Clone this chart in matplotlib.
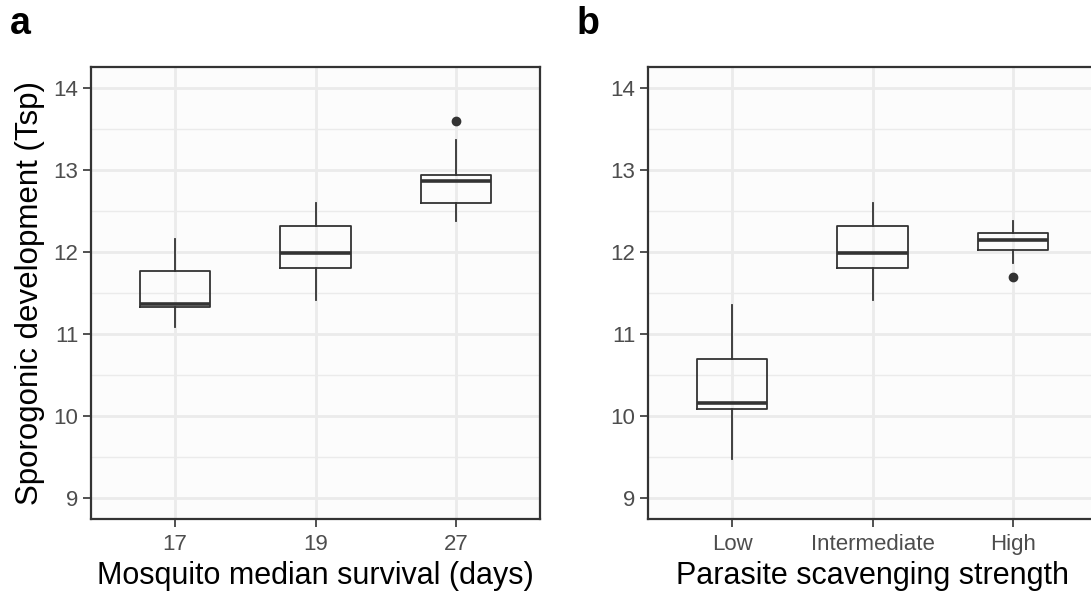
import matplotlib
matplotlib.use("Agg")
import matplotlib.pyplot as plt

plt.rcParams['font.family'] = ['Liberation Sans', 'DejaVu Sans']

# Panel a: mosquito median survival (days)
a_labels = ["17", "19", "27"]
a_whislo = [11.09, 11.415, 12.38]
a_q1 = [11.33, 11.807, 12.60]
a_med = [11.37, 11.985, 12.86]
a_q3 = [11.77, 12.317, 12.936]
a_whishi = [12.155, 12.60, 13.365]
a_fliers = [[], [], [13.596]]

# Panel b: parasite scavenging strength
b_labels = ["Low", "Intermediate", "High"]
b_whislo = [9.477, 11.415, 11.868]
b_q1 = [10.084, 11.807, 12.018]
b_med = [10.161, 11.985, 12.143]
b_q3 = [10.695, 12.317, 12.232]
b_whishi = [11.354, 12.60, 12.382]
b_fliers = [[], [], [11.698]]

y_ticks = [9, 10, 11, 12, 13, 14]
y_minor = [9.5, 10.5, 11.5, 12.5, 13.5]

DARK = '#333333'
GRID = '#EBEBEB'
W, H = 1091, 594

fig = plt.figure(figsize=(W / 100, H / 100), dpi=100)
fig.patch.set_facecolor('white')


def make_stats(labels, lo, q1, med, q3, hi, fl):
    return [dict(label=l, whislo=a, q1=b, med=c, q3=d, whishi=e, fliers=f)
            for l, a, b, c, d, e, f in zip(labels, lo, q1, med, q3, hi, fl)]


def panel(rect, stats, labels, xlabel, letter, letter_x, ylabel=None):
    ax = fig.add_axes(rect)
    ax.set_facecolor('#FCFCFC')
    ax.bxp(stats, positions=[1, 2, 3], widths=0.5, patch_artist=False,
           boxprops=dict(color=DARK, linewidth=1.3),
           medianprops=dict(color=DARK, linewidth=2.6),
           whiskerprops=dict(color=DARK, linewidth=1.3),
           capprops=dict(linewidth=0),
           showcaps=False,
           flierprops=dict(marker='o', markerfacecolor=DARK, markeredgecolor=DARK,
                           markersize=6),
           zorder=3)
    ax.set_xlim(0.4, 3.6)
    ax.set_ylim(8.75, 14.25)
    ax.set_yticks(y_ticks)
    ax.set_yticks(y_minor, minor=True)
    ax.set_xticks([1, 2, 3])
    ax.set_xticklabels(labels)
    ax.grid(True, which='major', color=GRID, linewidth=2.0, zorder=0)
    ax.grid(True, which='minor', axis='y', color=GRID, linewidth=1.0, zorder=0)
    ax.set_axisbelow(True)
    ax.tick_params(which='major', length=5.5, width=1.2, color=DARK,
                   labelsize=16, labelcolor='#4D4D4D')
    ax.tick_params(axis='x', which='major', pad=5.5)
    ax.tick_params(axis='y', which='major', pad=3.5)
    ax.tick_params(which='minor', length=0)
    for s in ax.spines.values():
        s.set_color(DARK)
        s.set_linewidth(1.6)
    ax.set_xlabel(xlabel, fontsize=22, color='black', labelpad=4)
    if ylabel:
        ax.set_ylabel(ylabel, fontsize=22.5, color='black', labelpad=6)
    fig.text(letter_x / W, 1 - 34 / H, letter, fontsize=27, fontweight='bold',
             ha='left', va='baseline')
    return ax


bottom = (H - 519) / H
height = (519 - 67) / H
width = 449 / W

panel([91 / W, bottom, width, height],
      make_stats(a_labels, a_whislo, a_q1, a_med, a_q3, a_whishi, a_fliers),
      a_labels, "Mosquito median survival (days)", "a", 10,
      ylabel="Sporogonic development (Tsp)")
panel([648 / W, bottom, width, height],
      make_stats(b_labels, b_whislo, b_q1, b_med, b_q3, b_whishi, b_fliers),
      b_labels, "Parasite scavenging strength", "b", 577)

fig.savefig("out.png", dpi=100)
